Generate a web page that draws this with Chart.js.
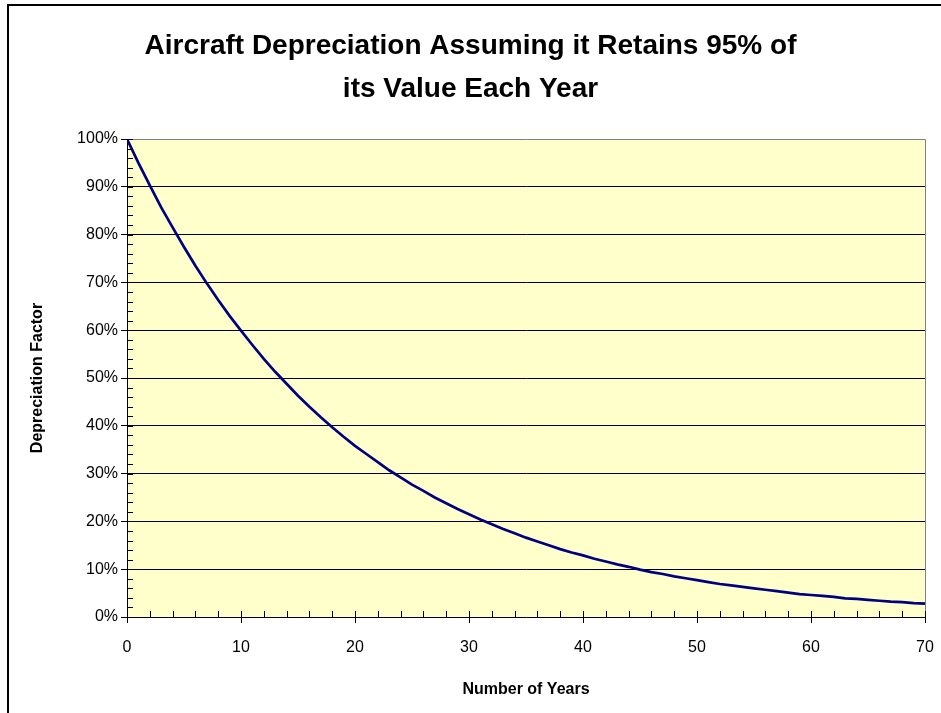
<!DOCTYPE html>
<html>
<head>
<meta charset="utf-8">
<script src="https://cdn.jsdelivr.net/npm/chart.js@4/dist/chart.umd.min.js"></script>
<style>
  html, body { margin: 0; padding: 0; background: #fff; }
  #wrap { position: relative; width: 941px; height: 713px; overflow: hidden; }
  #frame { position: absolute; left: 7px; top: 4px; width: 1000px; height: 1000px;
           border-left: 2px solid #000; border-top: 2px solid #000; box-sizing: border-box; }
  canvas { position: absolute; left: 0; top: 0; }
</style>
</head>
<body>
<div id="wrap">
  <div id="frame"></div>
  <canvas id="chart" width="941" height="713"></canvas>
</div>
<script>
// Years since purchase
const years = [
  0, 1, 2, 3, 4, 5, 6, 7, 8, 9,
  10, 11, 12, 13, 14, 15, 16, 17, 18, 19,
  20, 21, 22, 23, 24, 25, 26, 27, 28, 29,
  30, 31, 32, 33, 34, 35, 36, 37, 38, 39,
  40, 41, 42, 43, 44, 45, 46, 47, 48, 49,
  50, 51, 52, 53, 54, 55, 56, 57, 58, 59,
  60, 61, 62, 63, 64, 65, 66, 67, 68, 69, 70
];

// Remaining value as a percentage of the original price
const depreciationFactor = [
  100.0, 95.0, 90.3, 85.7, 81.5, 77.4, 73.5, 69.8, 66.3, 63.0,
  59.9, 56.9, 54.0, 51.3, 48.8, 46.3, 44.0, 41.8, 39.7, 37.7,
  35.8, 34.1, 32.4, 30.7, 29.2, 27.7, 26.4, 25.0, 23.8, 22.6,
  21.5, 20.4, 19.4, 18.4, 17.5, 16.6, 15.8, 15.0, 14.2, 13.5,
  12.9, 12.2, 11.6, 11.0, 10.5, 9.9, 9.4, 9.0, 8.5, 8.1,
  7.7, 7.3, 6.9, 6.6, 6.3, 6.0, 5.7, 5.4, 5.1, 4.8,
  4.6, 4.4, 4.2, 3.9, 3.8, 3.6, 3.4, 3.2, 3.1, 2.9, 2.8
];

const titleLines = ['Aircraft Depreciation Assuming it Retains 95% of', 'its Value Each Year'];
const xAxisTitle = 'Number of Years';
const yAxisTitle = 'Depreciation Factor';

const FONT = "'Liberation Sans', Arial, Helvetica, sans-serif";

// Plot background, border and tick marks
const plotDecor = {
  id: 'plotDecor',
  beforeDraw(chart) {
    const { ctx, chartArea: a } = chart;
    ctx.save();
    ctx.fillStyle = '#FFFFCC';
    ctx.fillRect(a.left, a.top, a.right - a.left, a.bottom - a.top);
    ctx.restore();
  },
  afterDatasetsDraw(chart) {
    const { ctx, chartArea: a, scales } = chart;
    const xs = scales.x, ys = scales.y;
    ctx.save();
    // gray border on top and right
    ctx.strokeStyle = '#808080';
    ctx.lineWidth = 1;
    ctx.beginPath();
    ctx.moveTo(Math.round(a.left) + 0.5, Math.round(a.top) + 0.5);
    ctx.lineTo(Math.round(a.right) + 0.5, Math.round(a.top) + 0.5);
    ctx.lineTo(Math.round(a.right) + 0.5, Math.round(a.bottom) + 0.5);
    ctx.stroke();
    ctx.strokeStyle = '#000';
    ctx.beginPath();
    // minor ticks inside the plot
    for (let v = 0; v <= 100; v += 2) {
      const y = Math.round(ys.getPixelForValue(v)) + 0.5;
      ctx.moveTo(a.left, y);
      ctx.lineTo(a.left + 6, y);
    }
    for (let v = 0; v <= 70; v += 2) {
      const x = Math.round(xs.getPixelForValue(v)) + 0.5;
      ctx.moveTo(x, a.bottom);
      ctx.lineTo(x, a.bottom - 6);
    }
    // major x ticks below the axis
    xs.ticks.forEach(t => {
      const x = Math.round(xs.getPixelForValue(t.value)) + 0.5;
      ctx.moveTo(x, a.bottom);
      ctx.lineTo(x, a.bottom + 6);
    });
    ctx.stroke();
    ctx.restore();
  }
};

new Chart(document.getElementById('chart'), {
  type: 'line',
  data: {
    datasets: [{
      data: years.map((yr, i) => ({ x: yr, y: depreciationFactor[i] })),
      borderColor: '#000080',
      borderWidth: 2.7,
      pointRadius: 0,
      tension: 0,
      fill: false
    }]
  },
  options: {
    responsive: false,
    animation: false,
    layout: { padding: { left: 16, right: 16, top: 0, bottom: 0 } },
    plugins: {
      legend: { display: false },
      tooltip: { enabled: false },
      title: {
        display: true,
        text: titleLines,
        color: '#000',
        font: { family: FONT, size: 28, weight: 'bold', lineHeight: 1.536 },
        padding: { top: 25, bottom: 28 }
      }
    },
    scales: {
      x: {
        type: 'linear',
        min: 0,
        max: 70,
        afterFit(s) { s.height = 96; },
        ticks: {
          stepSize: 10,
          color: '#000',
          padding: 6,
          maxRotation: 0,
          font: { family: FONT, size: 16 }
        },
        grid: {
          drawOnChartArea: false,
          drawTicks: true,
          tickLength: 15,
          tickColor: 'rgba(0,0,0,0)'
        },
        border: { display: true, color: '#000', width: 1 },
        title: {
          display: true,
          text: xAxisTitle,
          color: '#000',
          font: { family: FONT, size: 16, weight: 'bold' },
          padding: { top: 0, bottom: 14 }
        }
      },
      y: {
        min: 0,
        max: 100,
        afterFit(s) { s.width = 111; },
        ticks: {
          stepSize: 10,
          color: '#000',
          padding: 3,
          font: { family: FONT, size: 16 },
          callback: v => v + '%'
        },
        grid: {
          drawOnChartArea: true,
          drawTicks: true,
          tickLength: 6,
          tickColor: '#000',
          color: ctx => (ctx.tick && (ctx.tick.value === 100 || ctx.tick.value === 0)) ? 'rgba(0,0,0,0)' : '#000',
          lineWidth: 1
        },
        border: { display: true, color: '#000', width: 1 },
        title: {
          display: true,
          text: yAxisTitle,
          color: '#000',
          font: { family: FONT, size: 16, weight: 'bold' },
          padding: { top: 12, bottom: 0 }
        }
      }
    }
  },
  plugins: [plotDecor]
});
</script>
</body>
</html>
